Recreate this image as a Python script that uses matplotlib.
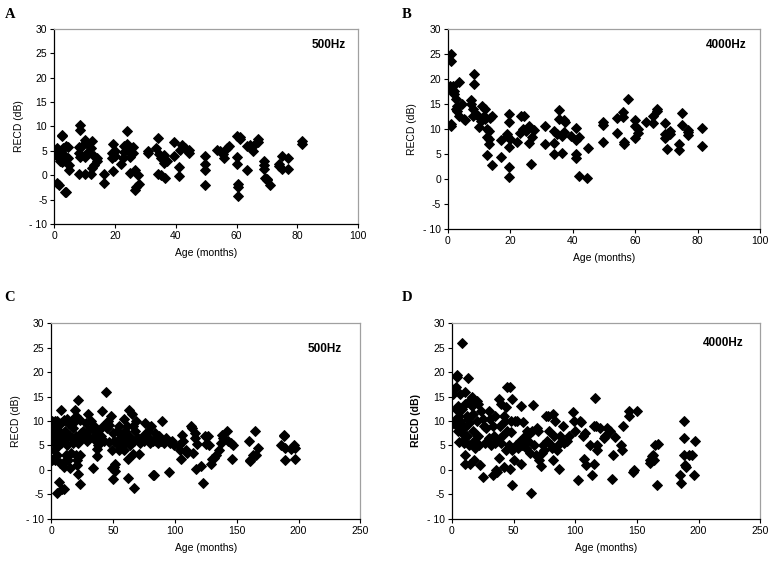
import matplotlib
matplotlib.use("Agg")
import matplotlib.pyplot as plt

plt.rcParams['font.family'] = ['Liberation Sans', 'DejaVu Sans']

# RECD (dB) against age (months)
a_points = [(1, -1.5), (1.5, -2), (0.5, 5), (1, 5.5), (1, 4), (1.5, 3.5), (2, 3), (2.5, 8.3), (2.5, 8),
            (2, 4.5), (2.5, 2.8), (3, 3), (3, 5.5), (3.5, 4), (3.5, -3.5), (4, -3.5), (4, 6), (4.5, 5.8),
            (5, 2), (5, 1), (4.5, 3.5), (8, 5.8), (8, 4.5), (8.5, 3.8), (8, 0.3), (8.5, 10.2), (8.5, 9.2),
            (9, 6), (10, 7.3), (10, 3.8), (10, 0.3), (11, 6.5), (11, 4.8), (12, 5.5), (12, 0.3), (12.5, 1.5),
            (12.5, 7), (13, 2), (13, 4), (14, 3.5), (14, 3), (16.5, 0.3), (16.5, -1.5), (19, 3.5), (19, 4.5),
            (19.5, 6.5), (19.5, 0.8), (20, 4), (20, 5), (22, 2.2), (22.5, 3.5), (23, 6), (23, 4.8), (24, 9),
            (24, 6.5), (24.5, 5), (25, 3.8), (25, 0.5), (26, 5.7), (26, 4.5), (26.5, -3), (26.5, 1),
            (27, -2.5), (27.5, 0), (28, -1.8), (31, 5), (31, 4.5), (34, 7.6), (33.5, 5.5), (34, 0.2),
            (34.5, 4.3), (35, 3.6), (35, 0), (36, 4.2), (36, 2.5), (36.5, -0.5), (37, 3), (39.5, 6.8),
            (39.5, 4), (41, 1.7), (41, -0.2), (41.5, 5.2), (42, 6.2), (43, 5.5), (44.5, 5.2), (44.5, 4.5),
            (49.5, 4), (49.5, 2.2), (49.5, 1), (49.5, -2), (53.5, 5.2), (54.5, 5), (55.5, 4.3), (56, 3.5),
            (57, 5.5), (57.5, 6), (60, 8), (60, 3.8), (60, 2.2), (60.5, -1.8), (60.5, -2.5), (60.5, -4.2),
            (61, 7.5), (61, 7.8), (63.5, 6), (63.5, 1), (64.5, 6.2), (65.5, 5), (66, 6.5), (67, 7.5),
            (67, 6.8), (69, 3), (69, 2), (69, 1.2), (69.5, -0.5), (70, -1), (70, -0.8), (71, -2), (74, 2.2),
            (74, 1.8), (75, 4), (75, 1.2), (77, 3.5), (77, 1.2), (81.5, 7), (81.5, 6.3)]

b_points = [(1, 25), (1, 23.5), (0.5, 18.5), (0.5, 18), (1, 11), (1, 10.5), (1.5, 18.5), (2, 17.5), (2, 17),
            (2.5, 16), (2.5, 14), (3, 14.5), (3, 13.5), (3.5, 19.3), (3.5, 12.5), (4.5, 15), (5, 12),
            (5.5, 11.8), (7.5, 15.8), (7.5, 15), (8, 14), (8, 12.5), (8.5, 21), (8.5, 19), (9, 13),
            (9.5, 12.5), (10, 10.3), (10.5, 11.5), (11, 14.5), (11.5, 12.5), (12, 14), (12, 12), (12.5, 10),
            (12.5, 8.3), (13, 9.5), (13, 8), (13, 7), (12.5, 4.8), (13.5, 12.2), (14, 12.5), (14, 2.8),
            (17, 7.8), (17, 4.5), (19, 9), (19, 8.5), (19.5, 13), (19.5, 11.3), (19.5, 6.5), (19.5, 2.5),
            (19.5, 0.5), (20, 8), (22, 7.5), (23, 9.2), (23.5, 12.5), (24, 10), (24.5, 12.5), (25, 9.5),
            (25.5, 10.2), (26, 10.5), (26, 7.2), (26.5, 3), (27, 8.3), (27.5, 9.8), (31, 10.5), (31, 7),
            (34, 9.5), (34, 7.3), (34, 5), (35, 9), (35.5, 13.8), (35.5, 12), (36.5, 5.2), (36.5, 8.5),
            (37, 11.7), (37, 9.3), (37.5, 11.3), (39.5, 8.5), (41, 10.2), (41, 7.8), (41, 5.1), (41, 4.2),
            (42, 8.3), (42, 0.6), (44.5, 0.2), (45, 6.3), (49.5, 11.3), (49.5, 10.7), (49.5, 7.5),
            (54, 12.2), (54, 9.2), (56, 13.4), (56, 12.3), (56.5, 7.5), (56.5, 7), (57.5, 16), (60, 11.7),
            (60, 10.5), (60, 8.2), (61, 10), (61, 9.2), (63.5, 11.3), (65.5, 12.6), (65.5, 11.2), (67, 14),
            (67, 13.5), (69.5, 11.2), (69.5, 9), (69.5, 8.2), (70, 6), (70.5, 9.2), (71, 9.5), (71, 9),
            (74, 7), (74, 5.8), (75, 13.2), (75, 10.8), (77, 9.8), (77, 9.3), (77, 8.8), (81.5, 10.2),
            (81.5, 6.7)]

c_points = [(1, 10), (1, 8), (1, 6.5), (1, 2), (2, 9), (2, 7), (2, 5.5), (2, 4), (3, 10), (3, 6), (3, 2),
            (4, 8.5), (4, 6), (4, 7), (5, 10), (5, -4.8), (5, 3), (6, -2.5), (6, 5), (6, 8), (7, 6.5),
            (7, 1.5), (8, 12.2), (8, 9.5), (8, 5.5), (9, 7), (9, -4), (10, -4), (10, 10.3), (10, 6),
            (10, 0.5), (11, 8), (11, 1.8), (12, 3), (12, 6.5), (13, 10.5), (13, 5), (14, 9.5), (14, 2),
            (15, 0.3), (15, 7), (16, 10), (16, 3.5), (17, 6.5), (18, 8.5), (18, 5.5), (19, 12.2), (19, 10),
            (20, 11), (20, 7), (20, 3), (21, 1), (21, 2), (22, 14.3), (22, -0.8), (22, 5.5), (23, 10.2),
            (23, 3), (23, -2.8), (24, 7.5), (25, 6.5), (26, 8), (27, 7), (28, 9.5), (29, 6), (30, 11.5),
            (30, 8), (31, 6.5), (32, 10), (33, 8.5), (34, 0.3), (35, 7), (35, 9), (36, 6), (37, 4.2),
            (37, 2.8), (38, 5), (38, 8), (39, 6), (40, 7), (41, 12), (42, 9), (43, 6), (44, 16), (45, 8.5),
            (46, 10), (47, 5.8), (47, 9.2), (48, 11), (49, 4), (49, 0.3), (50, 7.5), (50, -1.8), (51, 6),
            (51, 0.5), (52, -0.3), (52, 1.2), (53, 8), (54, 5), (55, 9), (55, 4), (56, 6.5), (57, 7),
            (58, 5), (59, 10.5), (59, 4), (60, 8), (60, 6), (61, 9), (62, 2.2), (62, -1.7), (63, 12.2),
            (63, 7), (64, 5), (65, 11.5), (66, 9), (66, 3.2), (67, -3.8), (67, 6), (68, 8), (69, 10),
            (70, 6.5), (71, 3.2), (72, 5.5), (74, 7), (75, 6), (76, 9.5), (78, 8), (79, 6.5), (80, 5.5),
            (81, 9), (82, 6), (82, -1), (83, -1), (84, 7.5), (85, 6), (86, 5.5), (87, 7), (89, 6), (90, 10),
            (91, 5.5), (93, 6.5), (95, -0.5), (96, 5.5), (98, 6), (99, 5), (103, 5), (104, 4), (105, 2.2),
            (106, 7.2), (107, 6), (109, 4), (110, 3.5), (113, 9), (114, 8.5), (115, 3.5), (116, 7.5),
            (116, 6.5), (117, 0.2), (118, 5.3), (121, 0.8), (123, -2.7), (124, 7), (125, 5.3), (127, 7),
            (128, 5), (129, 1.3), (130, 2.2), (132, 2.5), (133, 3), (136, 4), (137, 5.5), (138, 7.2),
            (139, 6.5), (142, 8), (143, 6), (145, 5.5), (146, 2.2), (147, 5), (160, 6), (161, 2),
            (161, 1.8), (163, 3), (165, 8), (166, 3), (167, 4.5), (186, 5), (188, 7.2), (188, 7),
            (189, 4.5), (189, 2), (194, 4.2), (196, 5), (197, 2.2), (197, 4.5)]

d_points = [(1, 15.5), (1, 9.5), (2, 16.5), (2, 10), (3, 17), (3, 12.5), (4, 19.5), (4, 19), (4, 9),
            (5, 13), (5, 8), (6, 11), (6, 5.8), (7, 15.5), (7, 10), (8, 26), (8, 12.5), (8, 7.5), (9, 9),
            (9, 6), (10, 5.5), (10, 8.5), (11, 16), (11, 13.5), (11, 3), (11, 1.3), (12, 11), (12, 7),
            (13, 18.7), (13, 10.5), (14, 14), (14, 9.5), (14, 5), (15, 1.3), (16, 15), (16, 13), (17, 11.5),
            (17, 8), (18, 6), (18, 2), (19, 4.5), (20, 14), (20, 10), (21, 13.5), (21, 7), (22, 5), (23, 1),
            (24, 12), (25, 10.5), (25, -1.5), (26, 9), (27, 5.5), (28, 8.5), (30, 12), (30, 6.5),
            (31, 10.5), (32, 5), (33, 9), (33, -1), (34, 7), (35, 11), (35, 5.5), (36, 0), (37, 6),
            (37, -0.5), (38, 14.5), (38, 2.5), (39, 9), (40, 13.5), (40, 5.5), (41, 7), (42, 11), (42, 0.5),
            (43, 10), (44, 12.8), (44, 4), (45, 17), (45, 8), (46, 5), (47, 17), (47, 0.2), (48, 10),
            (48, 7.8), (49, 14.5), (49, 4), (49, -3), (50, 2), (51, 10), (52, 5), (53, 10), (54, 4.5),
            (55, 6), (56, 13), (56, 1.3), (57, 5), (58, 9.8), (59, 7), (60, 4.5), (61, 8), (62, 6),
            (63, 3.5), (63, 7.5), (64, -4.8), (65, 8), (66, 13.2), (67, 5), (68, 3), (69, 8.5), (70, 8),
            (71, 2), (72, 0.8), (73, 3.5), (74, 5), (75, 4), (76, 11), (77, 6), (78, 11), (79, 8), (80, 5),
            (81, 4.5), (82, 11.5), (82, 2), (83, 7), (84, 10), (85, 4), (86, 5), (87, 0.2), (88, 7),
            (89, 6), (90, 9), (91, 5.5), (93, 6), (95, 7), (98, 11.8), (99, 10), (100, 8), (102, -2),
            (104, 10), (105, 9.8), (106, 7), (107, 2.2), (108, 7.5), (109, 1), (112, 5), (114, -1),
            (115, 1.2), (115, 9), (116, 14.7), (117, 9), (118, 5), (118, 4), (120, 8.5), (123, 6.5),
            (124, 7), (126, 8.5), (128, 8), (130, -1.8), (131, 3), (132, 6.8), (137, 5), (138, 4), (139, 9),
            (144, 11), (144, 12), (147, -0.5), (148, 0), (150, 12), (161, 2), (161, 1.5), (162, 2.8),
            (163, 3), (164, 2), (165, 5), (166, -3), (167, 5.2), (185, -1), (186, -2.7), (188, 10),
            (188, 6.5), (188, 3), (189, 1), (190, 0.5), (192, 3), (195, 3), (196, -1), (197, 6)]

panel_letters = ["A", "B", "C", "D"]
freq_labels = ["500Hz", "4000Hz", "500Hz", "4000Hz"]
x_limits = [100, 100, 250, 250]
x_steps = [20, 20, 50, 50]
y_ticks = list(range(-10, 31, 5))
y_tick_labels = ["- 10", "-5", "0", "5", "10", "15", "20", "25", "30"]

fig = plt.figure(figsize=(7.75, 5.67), dpi=100)

# axes rectangles [left, bottom, width, height] in figure fraction
rects = [[0.070, 0.605, 0.392, 0.344],
         [0.578, 0.596, 0.403, 0.353],
         [0.066, 0.085, 0.399, 0.345],
         [0.583, 0.085, 0.398, 0.345]]
label_pos = [(0.96, 0.92), (0.955, 0.92), (0.94, 0.87), (0.945, 0.90)]
letter_pos = [(0.006, 0.975), (0.518, 0.975), (0.006, 0.475), (0.518, 0.475)]

all_points = [a_points, b_points, c_points, d_points]

for i, pts in enumerate(all_points):
    ax = fig.add_axes(rects[i])
    ages = [p[0] for p in pts]
    recd = [p[1] for p in pts]
    ax.plot(ages, recd, "D", color="black", markersize=5.4, markeredgewidth=0.7)

    ax.set_xlim(0, x_limits[i])
    ax.set_ylim(-10, 30)
    ax.set_xticks(range(0, x_limits[i] + 1, x_steps[i]))
    ax.set_yticks(y_ticks)
    ax.set_yticklabels(y_tick_labels)
    ax.tick_params(direction="out", length=3, width=0.8, labelsize=7.5, colors="black", pad=2)

    for side in ["left", "bottom"]:
        ax.spines[side].set_color("black")
        ax.spines[side].set_linewidth(0.9)
    for side in ["top", "right"]:
        ax.spines[side].set_color("#a0a0a0")
        ax.spines[side].set_linewidth(0.9)

    weight = "bold" if i == 3 else "normal"
    ax.set_ylabel("RECD (dB)", fontsize=7.5, fontweight=weight, labelpad=4)
    ax.set_xlabel("Age (months)", fontsize=7.5, labelpad=5)

    ax.text(label_pos[i][0], label_pos[i][1], freq_labels[i], transform=ax.transAxes,
            ha="right", va="center", fontsize=8.5, fontweight="bold")
    fig.text(letter_pos[i][0], letter_pos[i][1], panel_letters[i], family="Liberation Serif",
             fontsize=10.5, fontweight="bold", ha="left", va="center")

fig.savefig("out.png", dpi=100)
